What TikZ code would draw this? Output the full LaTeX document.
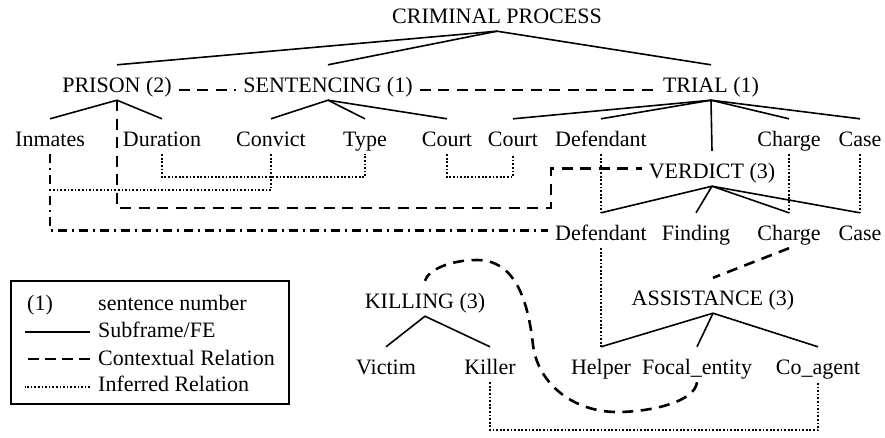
\documentclass[tikz,border=0pt]{standalone}
\usepackage{fontspec}
\setmainfont{Liberation Serif}
\begin{document}
\begin{tikzpicture}[x=1pt,y=-1pt,
  font=\fontsize{22}{26}\selectfont,
  lbl/.style={anchor=base, text height=19pt, text depth=0pt, inner ysep=8pt, inner xsep=7pt},
  leg/.style={anchor=base west, inner sep=0pt},
  fe/.style={line width=1.6pt},
  ctx/.style={line width=2.6pt, dash pattern=on 11pt off 7.5pt},
  inf/.style={line width=1.9pt, dash pattern=on 1.7pt off 1.9pt},
  dd/.style={line width=2.6pt, dash pattern=on 9pt off 5pt on 2pt off 5pt}]
\useasboundingbox (0,0) rectangle (885,437);

% frames and frame elements
\node[lbl] (crim) at (497,23) {CRIMINAL PROCESS};
\node[lbl] (prison) at (117,92) {PRISON (2)};
\node[lbl] (sent) at (328,92) {SENTENCING (1)};
\node[lbl] (trial) at (711,92) {TRIAL (1)};

\node[lbl] (inmates) at (50,146) {Inmates};
\node[lbl] (duration) at (162,146) {Duration};
\node[lbl] (convict) at (271,146) {Convict};
\node[lbl] (type) at (365,146) {Type};
\node[lbl] (court1) at (447,146) {Court};
\node[lbl] (court2) at (513,146) {Court};
\node[lbl] (defendant) at (601,146) {Defendant};
\node[lbl] (charge) at (789,146) {Charge};
\node[lbl] (case) at (860,146) {Case};

\node[lbl] (verdict) at (712,178) {VERDICT (3)};

\node[lbl] (def2) at (601,240) {Defendant};
\node[lbl] (finding) at (696,240) {Finding};
\node[lbl] (charge2) at (789,240) {Charge};
\node[lbl] (case2) at (860,240) {Case};

\node[lbl] (killing) at (425,308) {KILLING (3)};
\node[lbl] (assist) at (713,305) {ASSISTANCE (3)};

\node[lbl] (victim) at (386,374) {Victim};
\node[lbl] (killer) at (490,374) {Killer};
\node[lbl] (helper) at (601,374) {Helper};
\node[lbl] (focal) at (697,374) {Focal\_entity};
\node[lbl] (coagent) at (818,374) {Co\_agent};

% helper coordinates for levels
\coordinate (lvlA) at (0,90);
\coordinate (lvlDT) at (0,177);
\coordinate (lvlIC) at (0,190);
\coordinate (bendPV) at (551,208);
\coordinate (lvlKC) at (0,430);

% subframe / FE lines
\draw[fe] (prison.north) -- (crim.south) -- (trial.north);
\draw[fe] (crim.south) -- (sent.north);
\draw[fe] (inmates.north) -- (prison.south) -- (duration.north);
\draw[fe] (convict.north) -- (sent.south) -- (type.north);
\draw[fe] (sent.south) -- (court1.north);
\draw[fe] (trial.south) -- (court2.north);
\draw[fe] (trial.south) -- (defendant.north);
\draw[fe] (trial.south) -- (verdict.north);
\draw[fe] (trial.south) -- (charge.north);
\draw[fe] (trial.south) -- (case.north);
\draw[fe] (verdict.south) -- (def2.north);
\draw[fe] (verdict.south) -- (finding.north);
\draw[fe] (verdict.south) -- (charge2.north);
\draw[fe] (verdict.south) -- (case2.north);
\draw[fe] (victim.north) -- (killing.south) -- (killer.north);
\draw[fe] (helper.north) -- (assist.south) -- (coagent.north);
\draw[fe] (assist.south) -- (focal.north);

% contextual relations
\draw[ctx] (prison.east |- lvlA) -- (sent.west |- lvlA);
\draw[ctx] (sent.east |- lvlA) -- (trial.west |- lvlA);
\draw[ctx] (prison.south) |- (bendPV) |- (verdict.west);
\draw[ctx] (charge2.south) -- (assist.north);
\draw[ctx] (focal.south) .. controls (695,402) and (650,412) .. (617,412)
  .. controls (575,412) and (538,385) .. (533,345)
  .. controls (528,300) and (515,260) .. (477,260)
  .. controls (450,260) and (428,270) .. (killing.north);
\draw[dd] (inmates.south) |- (def2.west);

% inferred relations
\draw[inf] (duration.south) |- (duration.south |- lvlDT) -| (type.south);
\draw[inf] (convict.south) |- (inmates.south |- lvlIC);
\draw[inf] (court1.south) |- (court1.south |- lvlDT) -| (court2.south);
\draw[inf] (defendant.south) -- (def2.north);
\draw[inf] (charge.south) -- (charge2.north);
\draw[inf] (case.south) -- (case2.north);
\draw[inf] (def2.south) -- (def2.south |- helper.north);
\draw[inf] (killer.south) |- (killer.south |- lvlKC) -| (coagent.south);

% legend
\node[draw, line width=1.2pt, minimum width=278pt, minimum height=123pt, inner sep=0pt] (legend) at (150,342.5) {};
\node[anchor=base, inner sep=0pt] (lnum) at (40,310) {(1)};
\node[leg] (l1) at (98,310) {sentence number};
\node[leg] (l2) at (98,337) {Subframe/FE};
\node[leg] (l3) at (98,365) {Contextual Relation};
\node[leg] (l4) at (98,391) {Inferred Relation};
\draw[fe] ([xshift=-8pt,yshift=5pt]l2.base west) -- ++(-65,0);
\draw[ctx, dash pattern=on 11pt off 6pt] ([xshift=-8pt,yshift=6pt]l3.base west) -- ++(-65,0);
\draw[inf, line width=1.4pt] ([xshift=-8pt,yshift=4pt]l4.base west) -- ++(-65,0);
\end{tikzpicture}
\end{document}
